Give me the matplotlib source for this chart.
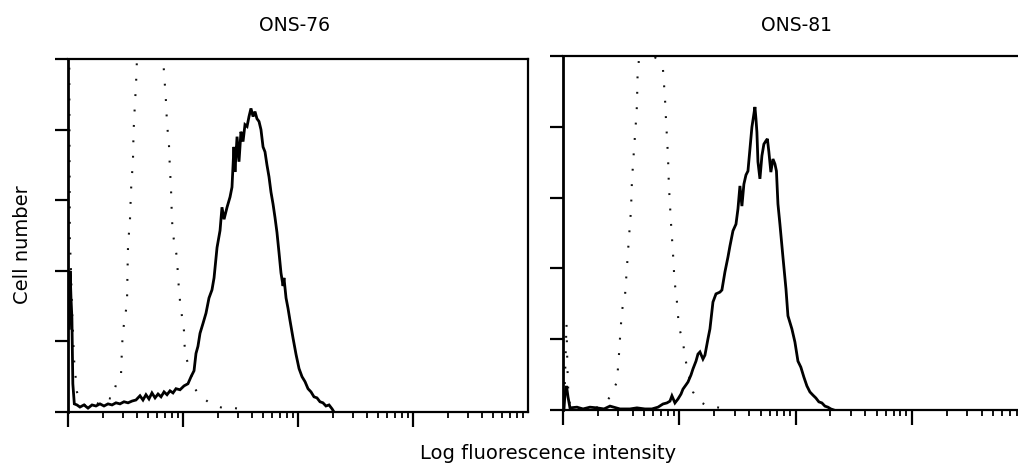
import numpy as np
import matplotlib
matplotlib.use("Agg")
import matplotlib.pyplot as plt
from matplotlib.ticker import LogLocator, NullFormatter, FixedLocator

# ---------------- data (x = log10 fluorescence intensity, y = cell count) ----------------
panel_titles = ["ONS-76", "ONS-81"]
x_label = "Log fluorescence intensity"
y_label = "Cell number"

ons76_log = [0.010, 0.018, 0.026, 0.034, 0.042, 0.055, 0.078, 0.104, 0.139, 0.174, 0.209,
             0.243, 0.278, 0.313, 0.348, 0.383, 0.417, 0.452, 0.487, 0.522, 0.557, 0.591,
             0.626, 0.652, 0.678, 0.704, 0.730, 0.757, 0.783, 0.809, 0.835, 0.861, 0.887,
             0.913, 0.939, 0.974, 1.009, 1.043, 1.070, 1.096, 1.113, 1.130, 1.148, 1.174,
             1.200, 1.226, 1.252, 1.270, 1.296, 1.322, 1.339, 1.357, 1.383, 1.409, 1.426,
             1.443, 1.452, 1.470, 1.487, 1.504, 1.522, 1.539, 1.557, 1.574, 1.591, 1.609,
             1.626, 1.643, 1.661, 1.678, 1.696, 1.713, 1.730, 1.748, 1.765, 1.783, 1.800,
             1.817, 1.835, 1.852, 1.870, 1.878, 1.896, 1.913, 1.930, 1.957, 1.983, 2.009,
             2.035, 2.061, 2.087, 2.113, 2.139, 2.165, 2.191, 2.217, 2.243, 2.270, 2.296,
             2.313]
ons76_count = [23.7, 40.0, 32.3, 26.6, 8.0, 2.3, 2.0, 1.4, 2.0, 1.1, 2.0,
               1.7, 2.3, 1.7, 2.3, 2.0, 2.6, 2.3, 2.9, 2.6, 3.1, 3.4,
               4.6, 3.4, 4.9, 3.7, 5.4, 4.0, 5.1, 4.3, 5.7, 4.9, 6.0,
               5.4, 6.6, 6.3, 7.4, 8.0, 10.0, 11.7, 16.6, 18.6, 22.3, 25.1,
               28.0, 32.3, 34.6, 38.0, 46.6, 51.4, 58.0, 54.6, 58.0, 60.9, 63.7,
               75.1, 68.0, 78.0, 70.9, 79.4, 76.6, 81.4, 80.9, 83.7, 86.0, 83.7,
               85.1, 83.1, 82.3, 80.0, 75.1, 73.7, 70.0, 66.6, 62.3, 58.9, 55.1,
               50.9, 45.1, 39.4, 35.7, 38.0, 32.3, 29.4, 26.0, 20.9, 16.3, 12.3,
               10.0, 8.6, 6.6, 5.7, 4.3, 4.0, 2.9, 2.6, 1.7, 2.0, 0.9,
               0.0]

ons76_ctrl_log = [0.010, 0.013, 0.016, 0.026, 0.035, 0.052, 0.078, 0.104, 0.157, 0.235,
                  0.304, 0.383, 0.417, 0.461, 0.470, 0.478, 0.496, 0.513, 0.517, 0.522,
                  0.539, 0.548, 0.565, 0.570, 0.583, 0.591, 0.600, 0.652, 0.713, 0.774,
                  0.826, 0.835, 0.852, 0.861, 0.878, 0.883, 0.896, 0.904, 0.913, 0.948,
                  0.957, 0.974, 0.991, 1.009, 1.013, 1.026, 1.061, 1.104, 1.139, 1.217,
                  1.296, 1.365, 1.452, 1.583]
ons76_ctrl_count = [115.0, 75.1, 49.4, 40.0, 29.4, 15.1, 5.7, 3.1, 1.7, 1.4,
                    4.3, 3.7, 7.7, 10.6, 18.6, 22.9, 26.9, 30.9, 38.9, 47.1,
                    54.6, 62.9, 71.4, 79.4, 88.0, 92.3, 100.3, 109.4, 112.3, 109.4,
                    100.3, 96.3, 88.0, 81.7, 75.7, 71.4, 62.9, 54.6, 50.3, 43.7,
                    38.0, 31.4, 27.1, 22.9, 19.1, 15.4, 12.3, 6.6, 4.9, 2.9,
                    1.7, 0.9, 1.1, 0.3]

ons81_log = [0.008, 0.017, 0.030, 0.043, 0.060, 0.120, 0.172, 0.232, 0.292, 0.353, 0.404,
             0.490, 0.576, 0.636, 0.705, 0.765, 0.817, 0.860, 0.894, 0.920, 0.937, 0.963,
             0.989, 1.015, 1.032, 1.058, 1.075, 1.101, 1.118, 1.144, 1.161, 1.178, 1.204,
             1.221, 1.247, 1.264, 1.290, 1.316, 1.350, 1.367, 1.393, 1.419, 1.436, 1.462,
             1.488, 1.505, 1.522, 1.539, 1.556, 1.574, 1.591, 1.608, 1.625, 1.642, 1.651,
             1.660, 1.668, 1.677, 1.694, 1.711, 1.728, 1.745, 1.758, 1.771, 1.788, 1.806,
             1.823, 1.836, 1.849, 1.866, 1.892, 1.918, 1.935, 1.969, 1.995, 2.021, 2.046,
             2.072, 2.098, 2.124, 2.150, 2.175, 2.201, 2.227, 2.253, 2.279, 2.304, 2.330]
ons81_count = [0.0, 4.5, 6.8, 3.7, 0.6, 0.8, 0.3, 0.8, 0.6, 0.3, 1.1,
               0.3, 0.3, 0.6, 0.3, 0.3, 0.8, 1.7, 2.0, 2.5, 4.0, 2.0,
               3.1, 4.5, 5.9, 7.1, 7.9, 9.9, 11.6, 13.8, 15.8, 16.4, 14.4,
               15.5, 20.1, 22.9, 30.5, 32.8, 33.3, 33.9, 39.0, 43.2, 46.3, 50.6,
               52.5, 56.8, 63.3, 57.6, 63.8, 66.4, 67.5, 73.7, 79.9, 83.6, 85.6,
               82.2, 78.5, 70.1, 65.3, 71.8, 75.1, 76.0, 76.6, 72.9, 67.2, 70.9,
               69.5, 67.5, 58.2, 52.5, 43.2, 34.2, 26.6, 22.9, 19.2, 13.8, 12.1,
               9.3, 6.8, 5.1, 4.2, 3.4, 2.3, 2.0, 1.1, 0.8, 0.3, 0.0]

ons81_ctrl_log = [0.012, 0.030, 0.038, 0.048, 0.070, 0.150, 0.232, 0.318, 0.378, 0.404,
                  0.464, 0.482, 0.490, 0.507, 0.533, 0.550, 0.567, 0.585, 0.593, 0.610,
                  0.628, 0.636, 0.641, 0.653, 0.705, 0.765, 0.860, 0.877, 0.886, 0.903,
                  0.911, 0.929, 0.946, 0.959, 0.980, 0.997, 1.032, 1.049, 1.075, 1.118,
                  1.178, 1.247, 1.307, 1.393]
ons81_ctrl_count = [3.0, 24.4, 12.0, 3.0, 0.8, 0.3, 0.3, 0.9, 2.6, 3.7,
                    7.9, 15.9, 20.1, 28.1, 32.1, 40.3, 48.5, 56.5, 64.7, 73.2,
                    81.7, 86.0, 93.9, 99.0, 102.4, 101.0, 96.2, 88.2, 82.0, 71.8,
                    63.3, 52.8, 44.3, 36.6, 30.6, 23.5, 19.3, 15.0, 10.8, 5.1,
                    2.3, 1.1, 0.9, 0.3]

y_ticks = [0, 20, 40, 60, 80, 100]
x_major = [1, 10, 100, 1000]

# ---------------- figure ----------------
W, H = 1018, 464
fig = plt.figure(figsize=(W / 100, H / 100), dpi=100)
fig.patch.set_facecolor("white")

ax1 = fig.add_axes([68 / W, 51 / H, 460 / W, 353 / H])
ax2 = fig.add_axes([563 / W, 53 / H, 465 / W, 354 / H])

series = [
    (ax1, ons76_log, ons76_count, ons76_ctrl_log, ons76_ctrl_count),
    (ax2, ons81_log, ons81_count, ons81_ctrl_log, ons81_ctrl_count),
]

for ax, sl, sc, cl, cc in series:
    ax.set_xscale("log")
    ax.set_xlim(1, 1e4)
    ax.set_ylim(0, 100)
    ax.plot(10 ** np.array(cl), cc, color="#111111", lw=1.5,
            linestyle=(0, (0.9, 6.5)), zorder=2)
    ax.plot(10 ** np.array(sl), sc, color="black", lw=2.0, zorder=3,
            solid_joinstyle="miter")
    ax.xaxis.set_major_locator(FixedLocator(x_major))
    ax.xaxis.set_minor_locator(LogLocator(base=10, subs=np.arange(2, 10)))
    ax.xaxis.set_minor_formatter(NullFormatter())
    ax.set_yticks(y_ticks)
    ax.tick_params(axis="both", which="both", direction="out",
                   labelbottom=False, labelleft=False, top=False, right=False)
    ax.tick_params(axis="x", which="major", length=11, width=1.6)
    ax.tick_params(axis="x", which="minor", length=4.5, width=1.3)
    ax.tick_params(axis="y", which="major", length=9.5, width=1.6)
    for s in ax.spines.values():
        s.set_linewidth(1.6)
    ax.spines["left"].set_linewidth(2.0)

fig.text(294.5 / W, 1 - 31 / H, panel_titles[0], ha="center", va="baseline", fontsize=13.5)
fig.text(796 / W, 1 - 31 / H, panel_titles[1], ha="center", va="baseline", fontsize=13.5)
fig.text(548 / W, 1 - 459 / H, x_label, ha="center", va="baseline", fontsize=14)
fig.text(23 / W, 1 - 245 / H, y_label, ha="center", va="center", rotation=90, fontsize=14)

fig.savefig("out.png", dpi=100, facecolor="white")
